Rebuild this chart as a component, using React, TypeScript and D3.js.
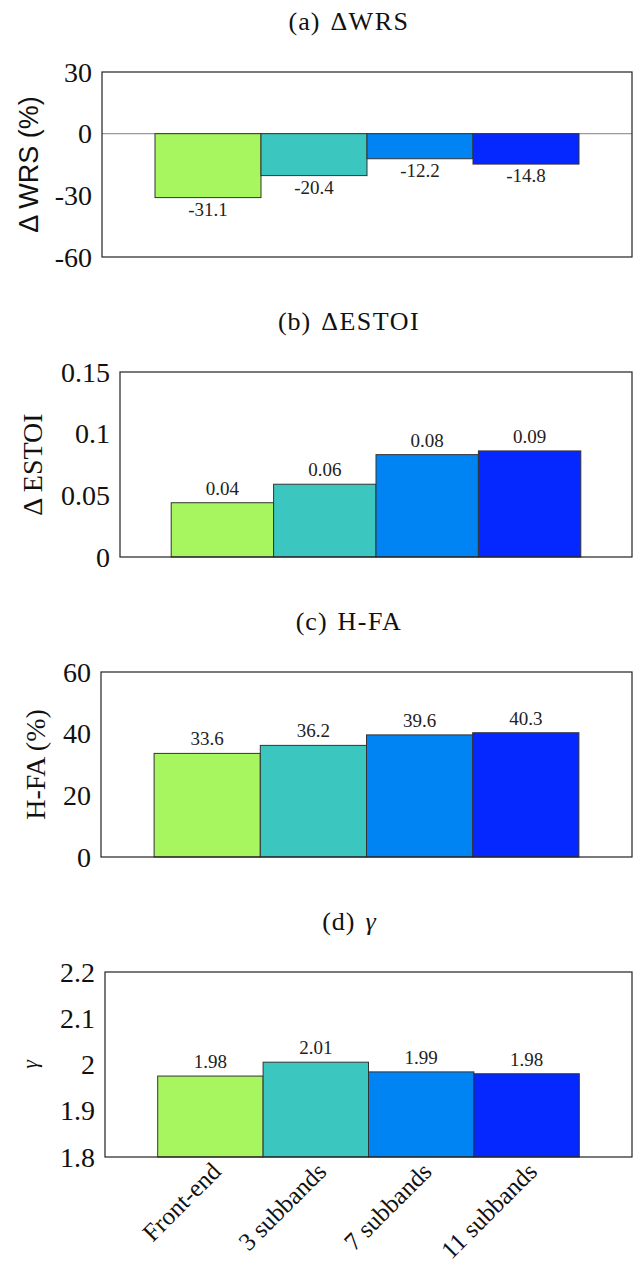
import React from "react";
import * as d3 from "d3";

const categories = ["Front-end", "3 subbands", "7 subbands", "11 subbands"];
const barColors = ["#a8f65f", "#3bc6bf", "#0084f4", "#0428ff"];

const wrsValues = [-31.1, -20.4, -12.2, -14.8];
const wrsLabels = ["-31.1", "-20.4", "-12.2", "-14.8"];
const wrsTicks = [30, 0, -30, -60];

const estoiValues = [0.044, 0.059, 0.083, 0.086];
const estoiLabels = ["0.04", "0.06", "0.08", "0.09"];
const estoiTicks = [0.15, 0.1, 0.05, 0];
const estoiTickLabels = ["0.15", "0.1", "0.05", "0"];

const hfaValues = [33.6, 36.2, 39.6, 40.3];
const hfaLabels = ["33.6", "36.2", "39.6", "40.3"];
const hfaTicks = [60, 40, 20, 0];

const gammaValues = [1.975, 2.005, 1.984, 1.98];
const gammaLabels = ["1.98", "2.01", "1.99", "1.98"];
const gammaTicks = [2.2, 2.1, 2.0, 1.9, 1.8];
const gammaTickLabels = ["2.2", "2.1", "2", "1.9", "1.8"];

const SERIF = "'Liberation Serif', 'Times New Roman', serif";
const SANS = "'Liberation Sans', Arial, sans-serif";

type PanelProps = {
  top: number;
  left: number;
  domain: [number, number];
  values: number[];
  labels: string[];
  ticks: number[];
  tickLabels: string[];
  titlePrefix: string;
  titleBody: string;
  ylabel: string;
  ylabelFont: string;
  ylabelSize: number;
  ylabelX: number;
  ylabelItalic?: boolean;
  base: number;
  zeroLine?: boolean;
  xLabels?: boolean;
};

const RIGHT = 632;
const H = 185;

function Panel(p: PanelProps) {
  const x = d3.scaleLinear().domain([0, 5]).range([p.left, RIGHT]);
  const y = d3.scaleLinear().domain(p.domain).range([p.top + H, p.top]);
  const cy = p.top + H / 2;
  const isGamma = p.titleBody === "γ";
  return (
    <g>
      <text
        x={349}
        y={p.top - 42}
        textAnchor="middle"
        fontFamily={SERIF}
        fontSize={26}
        fill="#111"
      >
        <tspan letterSpacing={1}>{p.titlePrefix}</tspan>
        <tspan dx={10} letterSpacing={isGamma ? 0 : 1.5} fontStyle={isGamma ? "italic" : "normal"}>
          {p.titleBody}
        </tspan>
      </text>
      <rect x={p.left} y={p.top} width={RIGHT - p.left} height={H} fill="#fff" stroke="none" />
      {p.zeroLine && (
        <line x1={p.left} x2={RIGHT} y1={y(0)} y2={y(0)} stroke="#9a9a9a" strokeWidth={1.2} />
      )}
      {p.values.map((v, i) => {
        const x0 = x(i + 0.5);
        const x1 = x(i + 1.5);
        const yb = y(p.base);
        const yv = y(v);
        return (
          <rect
            key={i}
            x={x0}
            y={Math.min(yb, yv)}
            width={x1 - x0}
            height={Math.abs(yv - yb)}
            fill={barColors[i]}
            stroke="#333"
            strokeWidth={1}
          />
        );
      })}
      {p.values.map((v, i) => {
        const neg = v < p.base;
        return (
          <text
            key={i}
            x={x(i + 1)}
            y={neg ? y(v) + 18 : y(v) - 8}
            textAnchor="middle"
            fontFamily={SERIF}
            fontSize={19}
            fill="#222"
          >
            {p.labels[i]}
          </text>
        );
      })}
      <rect x={p.left} y={p.top} width={RIGHT - p.left} height={H} fill="none" stroke="#222" strokeWidth={1.2} />
      {p.ticks.map((t, i) => (
        <text
          key={i}
          x={p.left - 10}
          y={y(t)}
          dy="0.34em"
          textAnchor="end"
          fontFamily={SERIF}
          fontSize={28}
          fill="#111"
        >
          {p.tickLabels[i]}
        </text>
      ))}
      <text
        transform={`translate(${p.ylabelX},${cy}) rotate(-90)`}
        textAnchor="middle"
        fontFamily={p.ylabelFont}
        fontSize={p.ylabelSize}
        fontStyle={p.ylabelItalic ? "italic" : "normal"}
        fill="#111"
      >
        {p.ylabel}
      </text>
      {p.xLabels &&
        categories.map((c, i) => (
          <text
            key={c}
            transform={`translate(${x(i + 1) + 12},${p.top + H + 16}) rotate(-45)`}
            textAnchor="end"
            fontFamily={SERIF}
            fontSize={25}
            fill="#111"
          >
            {c}
          </text>
        ))}
    </g>
  );
}

export default function App() {
  return (
    <svg
      width={634}
      height={1270}
      viewBox="0 0 634 1270"
      style={{ position: "absolute", left: 0, top: 0, background: "#fff" }}
    >
      <rect x={0} y={0} width={634} height={1270} fill="#fff" />
      <Panel
        top={72}
        left={102}
        domain={[-60, 30]}
        values={wrsValues}
        labels={wrsLabels}
        ticks={wrsTicks}
        tickLabels={wrsTicks.map(String)}
        titlePrefix="(a)"
        titleBody="ΔWRS"
        ylabel="Δ WRS (%)"
        ylabelFont={SANS}
        ylabelSize={27}
        ylabelX={38}
        base={0}
        zeroLine
      />
      <Panel
        top={372}
        left={120}
        domain={[0, 0.15]}
        values={estoiValues}
        labels={estoiLabels}
        ticks={estoiTicks}
        tickLabels={estoiTickLabels}
        titlePrefix="(b)"
        titleBody="ΔESTOI"
        ylabel="Δ ESTOI"
        ylabelFont={SERIF}
        ylabelSize={28}
        ylabelX={42}
        base={0}
      />
      <Panel
        top={672}
        left={101}
        domain={[0, 60]}
        values={hfaValues}
        labels={hfaLabels}
        ticks={hfaTicks}
        tickLabels={hfaTicks.map(String)}
        titlePrefix="(c)"
        titleBody="H-FA"
        ylabel="H-FA (%)"
        ylabelFont={SERIF}
        ylabelSize={28}
        ylabelX={45}
        base={0}
      />
      <Panel
        top={972}
        left={105}
        domain={[1.8, 2.2]}
        values={gammaValues}
        labels={gammaLabels}
        ticks={gammaTicks}
        tickLabels={gammaTickLabels}
        titlePrefix="(d)"
        titleBody="γ"
        ylabel="γ"
        ylabelFont={SERIF}
        ylabelSize={22}
        ylabelX={37}
        ylabelItalic
        base={1.8}
        xLabels
      />
    </svg>
  );
}
